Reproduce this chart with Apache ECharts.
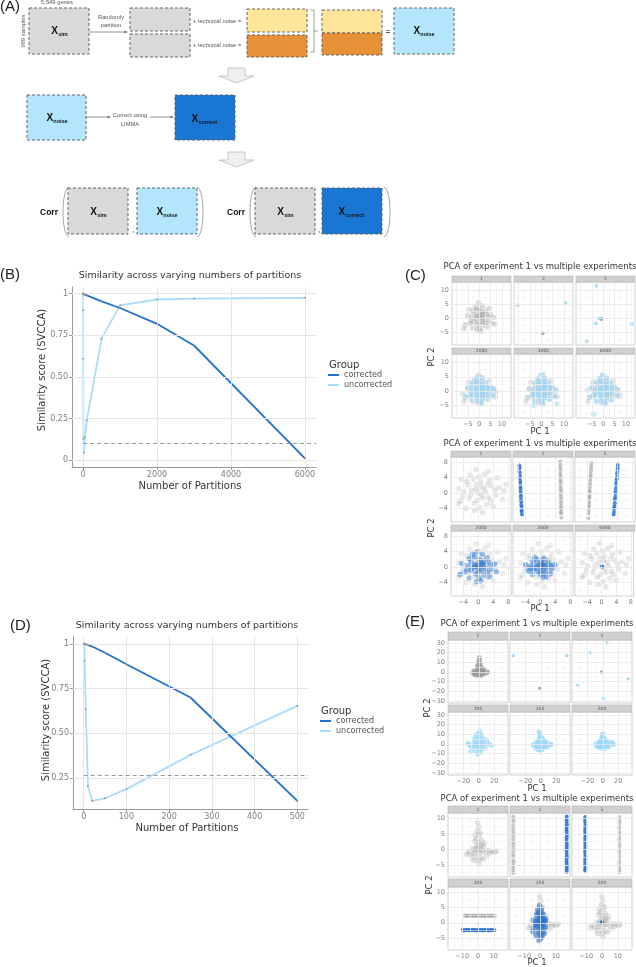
<!DOCTYPE html>
<html><head><meta charset="utf-8">
<script src="https://cdn.jsdelivr.net/npm/echarts@6/dist/echarts.min.js"></script>
<style>html,body{margin:0;padding:0;background:#fff}#c{width:636px;height:967px}</style>
</head><body><div id="c"></div><script>
// ---------------- DATA ----------------
const bPartitions = [1, 2, 5, 10, 20, 50, 100, 500, 1000, 2000, 3000, 6000];
const bCorrected = [1.0, 0.999, 0.998, 0.997, 0.996, 0.993, 0.99, 0.954, 0.914, 0.819, 0.689, 0.012];
const bUncorrected = [1.0, 0.90, 0.61, 0.13, 0.045, 0.14, 0.24, 0.73, 0.93, 0.965, 0.97, 0.975];
const bThreshold = 0.1;
const bXTicks = [0, 2000, 4000, 6000];
const bYTicks = [0, 0.25, 0.5, 0.75, 1];

const dPartitions = [1, 2, 5, 10, 20, 50, 100, 250, 500];
const dCorrected = [1.0, 0.999, 0.997, 0.994, 0.985, 0.95, 0.886, 0.70, 0.121];
const dUncorrected = [1.0, 0.905, 0.634, 0.205, 0.121, 0.136, 0.187, 0.379, 0.653];
const dThreshold = 0.265;
const dXTicks = [0, 100, 200, 300, 400, 500];
const dYTicks = [0.25, 0.5, 0.75, 1];

const groupNames = ['corrected', 'uncorrected'];

// PCA panel (C) top
const cTopLabels = ['1', '2', '5', '2000', '3000', '6000'];
const cTopXTicks = [-10, -5, 0, 5, 10];
const cTopYTicks = [-5, 0, 5, 10];
const cTopExp1 = [[0.2,0.4],[1.3,1.1],[-1.4,0.8],[2.2,-0.7],[-2.3,-1.1],[0.5,2.5],[-0.9,-2.3],[3.0,1.6],[-3.3,0.5],[1.9,-2.4],[-1.2,3.1],[0.3,-3.5],[4.1,-0.8],[-4.0,-1.9],[2.7,2.8],[-2.6,2.7],[4.9,1.3],[-5.1,1.0],[1.5,4.4],[-0.3,5.6],[0.8,-4.6],[-2.8,-3.5],[3.5,-3.0],[5.7,-1.8],[-6.1,-2.3],[6.4,0.4],[-1.8,4.2],[2.0,2.0],[-0.5,1.0],[1.0,-1.2],[-1.6,-0.3],[1.7,0.1],[-3.5,-0.8],[3.7,0.7],[-0.1,-1.5],[0.5,1.5],[2.8,-1.6],[-2.3,1.8],[-6.8,-3.7],[7.0,-2.1],[-4.5,3.1],[4.4,3.5],[0.0,3.3],[-0.8,-4.0]];
const cTop2Gray = [[0.6,-5.3]];
const cTop2Blue = [[-10.4,4.7],[10.6,5.6]];
const cTop5Gray = [[-0.8,-0.2]];
const cTop5Blue = [[-2.9,11.7],[-7.3,-8.2],[-3.2,-1.8],[-1.9,0.0],[12.5,-2.0]];
const cTop2000Blue = [[0.5,0.2],[1.1,1.4],[-1.3,0.5],[2.4,-0.4],[-2.0,-1.4],[0.7,2.2],[-0.6,-2.5],[3.2,1.2],[-3.1,0.9],[1.6,-2.7],[-1.5,2.9],[0.1,-3.3],[4.3,-1.1],[-4.3,-1.5],[2.5,3.0],[-2.9,2.4],[5.1,0.9],[-4.8,1.4],[1.2,4.7],[-0.5,4.9],[1.0,-4.3],[-3.0,-3.2],[3.8,-2.6],[6.0,-1.5],[-5.9,-2.0],[6.6,0.8],[-2.1,4.0],[2.2,1.7],[-0.3,0.8],[0.8,-1.0],[-1.9,-0.6],[1.8,0.4],[-3.8,-0.5],[3.4,0.5],[0.2,-1.7],[-7.2,-1.0],[7.4,-0.3]];
const cTop3000Blue = [[0.3,0.5],[1.4,1.0],[-1.2,0.9],[2.1,-0.8],[-2.2,-1.2],[0.9,2.6],[-0.7,-2.1],[3.3,1.4],[-3.4,0.2],[1.7,-2.2],[-1.3,3.4],[0.5,-3.1],[4.4,-0.7],[-4.2,-1.7],[2.8,3.1],[-2.4,2.5],[5.0,1.1],[-5.3,0.7],[1.3,4.3],[0.8,5.9],[0.6,-4.4],[-2.7,-3.3],[3.6,-2.8],[5.9,-2.0],[-6.2,-2.6],[6.8,0.2],[-1.6,4.1],[2.3,1.9],[-0.4,1.1],[1.1,-1.4],[-1.8,-0.2],[1.6,0.3],[-3.7,-0.9],[3.9,0.8],[-0.2,-1.6],[-3.1,-5.0],[6.9,-4.6]];
const cTop6000Blue = [[0.1,0.3],[1.2,1.3],[-1.6,0.6],[2.5,-0.5],[-2.1,-1.3],[0.4,2.3],[-1.0,-2.4],[3.1,1.7],[-3.0,0.6],[2.0,-2.6],[-1.0,3.0],[0.2,-3.6],[4.0,-1.0],[-4.4,-1.6],[2.6,2.7],[-2.8,2.8],[4.7,1.5],[-5.0,1.2],[1.6,4.5],[-0.2,5.3],[0.9,-4.5],[-2.9,-3.7],[3.3,-3.2],[5.6,-1.6],[-6.0,-2.1],[6.2,0.5],[-1.9,4.4],[2.1,2.1],[-0.6,0.9],[1.0,-1.1],[-1.5,-0.5],[1.8,0.2],[-3.6,-0.7],[3.6,0.6],[-0.3,-1.8],[-4.2,-8.1],[-7.0,0.3],[7.3,-1.3]];

// PCA panel (C) bottom
const cBotLabels = ['1', '2', '5', '2000', '3000', '6000'];
const cBotXTicks = [-4, 0, 4, 8];
const cBotYTicks = [-4, 0, 4, 8];
const cBotExp1 = [[0,0],[1.5,1.2],[-1.8,0.7],[2.6,-1.1],[-2.4,-1.5],[0.7,2.8],[-1.1,-2.6],[3.5,1.8],[-3.8,0.3],[2.2,-3.0],[-1.4,3.6],[0.4,-3.8],[4.6,-0.6],[-4.9,-2.2],[3.0,3.3],[-3.1,3.0],[5.6,1.4],[-5.3,1.1],[1.7,4.9],[-0.6,6.1],[1.1,-5.2],[-3.3,-4.1],[3.9,-3.5],[6.4,-1.7],[-5.4,-2.8],[6.8,0.6],[-2.2,4.7],[2.4,2.2],[-0.7,1.0],[1.1,-1.5],[-2.0,-0.5],[1.9,0.3],[-4.2,-1.0],[4.4,0.8],[-0.3,-1.9],[0.5,1.7],[3.3,-2.0],[-2.8,2.1],[5.0,3.9],[-4.6,3.6],[0.2,4.1],[-1.0,-4.6],[0.8,-0.5],[-0.5,2.3],[7.4,2.2],[2.6,5.6]];
const cBot2Blue = [[-5.6,7.2],[-5.5,6.6],[-5.6,5.8],[-5.5,5.3],[-5.4,4.4],[-5.5,3.9],[-5.4,3.1],[-5.4,2.6],[-5.3,1.7],[-5.3,1.1],[-5.3,0.4],[-5.2,-0.3],[-5.2,-0.9],[-5.2,-1.8],[-5.1,-2.3],[-5.1,-3.1],[-5.0,-3.7],[-5.0,-4.5],[-5.0,-5.0],[-4.9,-5.7]];
const cBot2Gray = [[5.3,8.2],[5.3,7.4],[5.3,6.5],[5.4,5.9],[5.3,5.0],[5.4,4.3],[5.4,3.4],[5.4,2.8],[5.4,1.9],[5.4,1.1],[5.5,0.5],[5.4,-0.4],[5.5,-1.1],[5.5,-1.9],[5.5,-2.6],[5.5,-3.5],[5.5,-4.1],[5.5,-4.9],[5.5,-5.4],[5.6,-6.4]];
const cBot5Gray = [[-2.9,7.8],[-3.0,7.0],[-3.0,6.2],[-3.1,5.6],[-3.1,4.7],[-3.2,4.1],[-3.2,3.2],[-3.3,2.3],[-3.3,1.7],[-3.4,0.8],[-3.4,0.2],[-3.4,-0.8],[-3.5,-1.4],[-3.5,-2.3],[-3.6,-3.1],[-3.6,-3.7],[-3.7,-4.6],[-3.7,-5.4],[-3.8,-6.6]];
const cBot5Blue = [[4.1,7.3],[4.1,6.5],[4.0,5.9],[3.9,5.1],[3.9,4.2],[3.8,3.6],[3.7,2.7],[3.7,2.1],[3.6,1.2],[3.5,0.4],[3.5,-0.3],[3.4,-1.2],[3.3,-1.8],[3.3,-2.7],[3.2,-3.5],[3.1,-4.1],[3.1,-5.0],[3.0,-5.7]];
const cBot2000Blue = [[0.1,0.3],[1.2,0.9],[-1.1,0.6],[2.0,-0.5],[-1.9,-0.9],[0.4,1.9],[-0.7,-1.8],[2.7,1.2],[-2.8,0.4],[1.5,-2.2],[-1.0,2.6],[0.2,-2.8],[3.5,-0.6],[-3.6,-1.3],[2.2,2.4],[-2.3,2.2],[4.3,0.8],[-4.4,0.9],[1.1,3.4],[-0.4,3.9],[0.7,-3.6],[-2.4,-2.9],[2.9,-2.5],[4.8,-1.3],[-4.9,-1.9],[-1.6,3.3],[1.7,1.5],[-0.4,0.7],[0.8,-0.9],[-1.4,-0.3],[1.4,0.1],[-3.0,-0.6],[3.1,0.4],[-0.1,-1.2],[0.6,1.1],[2.4,-1.4],[-2.0,1.5],[0.0,-0.4],[-0.9,0.1],[0.9,0.6],[-0.5,-3.9]];
const cBot3000Blue = [[0.2,0.1],[1.0,0.6],[-0.9,0.4],[1.8,-0.4],[-1.7,-0.7],[0.3,1.3],[-0.6,-1.3],[2.4,0.8],[-2.5,0.3],[1.3,-1.6],[-0.9,1.8],[0.1,-2.0],[3.1,-0.5],[-3.2,-1.0],[2.0,1.6],[-2.0,1.5],[3.8,0.5],[-3.9,0.6],[0.9,2.2],[0.6,-2.6],[-2.1,-2.0],[2.6,-1.8],[-0.3,0.5],[0.7,-0.7],[-1.3,-0.2],[1.3,0.2],[-2.7,-0.4],[2.8,0.3],[0.0,-0.9],[0.5,0.8],[-1.5,2.4],[1.6,-2.6]];
const cBot6000Blue = [[0.1,0.1]];

// PCA panel (E) top
const eTopLabels = ['1', '2', '5', '100', '250', '500'];
const eTopXTicks = [-20, 0, 20];
const eTopYTicks = [-30, -20, -10, 0, 10, 20, 30];
const eTopExp1 = [[0,0],[1.6,1.3],[-1.7,0.9],[3.2,0.2],[-3.2,-0.6],[0.4,3.2],[-0.9,-2.1],[4.2,1.6],[-4.3,0.4],[2.2,-2.6],[-1.1,4.6],[0.9,6.6],[0.1,8.4],[-0.4,10.5],[1.1,12.4],[0.6,15.0],[6.2,-0.4],[-6.1,-1.1],[8.2,0.4],[-8.3,-1.6],[10.2,-0.6],[11.5,0.1],[-2.6,2.6],[2.6,3.6],[5.1,-2.1],[-5.2,-2.6],[3.6,-3.6],[-3.4,-3.9],[1.4,-4.2],[7.1,1.9],[-7.2,0.9],[9.1,-1.6],[-1.6,6.2],[2.1,8.7],[0.2,-3.1],[4.6,4.1]];
const eTop2Gray = [[-1.3,-16.9]];
const eTop2Blue = [[-35.7,16.8],[33.9,16.8]];
const eTop5Gray = [[-1.8,0.0]];
const eTop5Blue = [[5.2,29.9],[-16.5,19.8],[-32.6,-13.8],[33.0,-7.0],[0.8,-27.3]];
const eTop100Gray = [[-4.0,-0.5],[-1.5,0.2],[1.0,-0.3],[3.5,0.4]];
const eTop100Blue = [[0,0],[2.5,1.8],[-2.6,1.2],[5.1,-1.2],[-4.8,-1.9],[1.2,4.6],[-1.4,-4.1],[7.4,2.3],[-7.2,1.1],[3.8,-5.2],[-3.1,6.4],[0.6,8.3],[-0.8,10.6],[1.4,13.5],[9.6,-0.6],[-9.8,-2.4],[12.5,0.8],[-12.1,-1.2],[-3.6,-7.8],[2.4,-8.6],[-1.2,-10.8],[5.8,5.6],[-5.9,5.1],[8.6,-4.3],[-8.4,-4.9],[3.5,9.8],[-3.8,9.1],[15.6,-1.6],[-14.2,0.7],[0.4,-6.1],[1.8,-1.7],[-1.7,2.9],[-10.5,-7.5],[10.2,3.8]];
const eTop250Blue = [[0,0],[2.2,1.5],[-2.3,1.0],[4.4,-0.8],[-4.3,-1.6],[0.3,3.8],[-1.1,-3.1],[5.9,2.0],[-6.1,0.6],[3.1,-3.8],[-1.8,5.5],[-0.4,7.6],[-1.5,9.8],[-2.2,12.3],[8.4,-0.4],[-8.6,-2.2],[11.2,0.2],[13.8,-0.6],[-9.6,-0.5],[1.5,-6.0],[-3.4,-5.6],[6.2,-3.9],[-6.5,-4.4],[1.6,6.3],[3.2,4.1],[-4.1,3.4],[9.6,-2.1],[0.8,-1.4],[-1.0,1.9],[6.8,1.1],[-0.8,-6.5],[4.9,3.2]];
const eTop500Blue = [[0,0],[2.1,1.2],[-2.0,1.1],[4.2,-0.6],[-4.1,-1.4],[0.5,3.5],[-0.9,-2.6],[5.6,1.7],[-5.8,0.5],[2.9,-3.3],[-1.5,5.1],[-0.2,7.0],[-0.9,9.2],[0.3,10.2],[8.1,-0.2],[-8.1,-2.0],[10.8,0.4],[13.9,-0.4],[-8.8,0.3],[1.2,-4.9],[-3.1,-4.5],[6.0,-3.1],[-6.2,-3.5],[1.9,5.6],[3.3,3.6],[-3.9,3.0],[9.2,-1.8],[0.7,-1.2],[-1.1,1.7],[6.6,2.0],[11.8,1.5],[4.6,2.9]];

// PCA panel (E) bottom
const eBotLabels = ['1', '2', '5', '100', '250', '500'];
const eBotXTicks = [-10, 0, 10];
const eBotYTicks = [-5, 0, 5, 10];
const eBotExp1 = [[0,0],[1.2,0.8],[-1.3,0.5],[2.5,-0.6],[-2.4,-1.2],[0.4,2.2],[-0.8,-2.4],[3.6,0.9],[-3.5,0.2],[1.8,-2.6],[-1.2,3.3],[0.2,-3.5],[4.8,-0.9],[-4.6,-1.6],[2.0,3.0],[-2.2,2.6],[6.2,-0.3],[-5.8,-0.8],[0.8,4.6],[-0.4,5.8],[0.5,7.2],[-0.2,8.6],[1.5,5.2],[0.6,-4.7],[-2.6,-3.6],[3.1,-3.2],[7.6,-1.2],[-7.2,-1.6],[9.0,-0.6],[10.5,-0.9],[11.6,-0.5],[-1.8,4.5],[2.4,1.8],[-0.6,1.2],[1.0,-1.1],[-1.8,-0.4],[1.9,0.3],[-3.8,-2.6],[4.2,2.1],[5.4,-2.2]];
const eBot2Gray = [[-16.9,10.6],[-16.9,9.6],[-16.8,8.9],[-16.9,7.7],[-17.0,7.0],[-16.9,6.0],[-16.8,5.1],[-16.9,4.1],[-17.0,3.2],[-16.9,2.2],[-16.9,1.3],[-16.8,0.3],[-16.9,-0.5],[-17.0,-1.6],[-16.9,-2.3],[-16.9,-3.5],[-16.8,-4.2],[-16.9,-5.2],[-17.0,-6.1],[-16.9,-7.0],[-16.9,-7.7]];
const eBot2Blue = [[16.9,10.6],[16.8,9.8],[16.9,9.0],[17.0,8.1],[16.9,7.3],[16.8,6.4],[16.9,5.6],[17.0,4.7],[16.9,3.9],[16.8,3.0],[16.9,2.1],[17.0,1.3],[16.9,0.4],[16.8,-0.4],[16.9,-1.3],[17.0,-2.2],[16.9,-3.0],[16.8,-3.9],[16.9,-4.7],[17.0,-5.6],[16.9,-6.4],[16.9,-7.2]];
const eBot5Blue = [[-10.6,10.4],[-10.7,9.5],[-10.6,8.7],[-10.5,7.8],[-10.6,7.0],[-10.7,6.1],[-10.6,5.3],[-10.5,4.4],[-10.6,3.6],[-10.7,2.7],[-10.6,1.9],[-10.5,1.0],[-10.6,0.2],[-10.7,-0.7],[-10.6,-1.5],[-10.5,-2.4],[-10.6,-3.2],[-10.7,-4.1],[-10.6,-4.9],[-10.5,-5.8],[-10.6,-6.4],[-10.6,-7.0]];
const eBot5Gray = [[11.0,10.4],[11.0,9.3],[11.1,8.6],[11.0,7.4],[10.9,6.7],[11.0,5.6],[11.1,4.8],[11.0,3.7],[10.9,2.9],[11.0,1.8],[11.1,1.0],[11.0,-0.1],[10.9,-0.9],[11.0,-2.0],[11.1,-2.8],[11.0,-3.9],[10.9,-4.7],[11.0,-5.8],[11.1,-6.6],[11.0,-7.4]];
const eBot100Gray = [[-8.3,2.4],[-7.4,2.3],[-6.6,2.2],[-5.5,2.4],[-4.7,2.3],[-3.6,2.2],[-2.8,2.4],[-1.7,2.3],[-0.9,2.2],[0.2,2.35],[1.0,2.3],[2.1,2.2],[2.9,2.4],[4.0,2.3],[4.8,2.25],[5.9,2.4],[6.7,2.3],[7.8,2.2],[8.6,2.35],[9.7,2.3],[10.6,2.25]];
const eBot100Blue = [[-9.7,-2.4],[-8.7,-2.5],[-7.5,-2.3],[-6.6,-2.45],[-5.6,-2.4],[-4.8,-2.5],[-3.7,-2.3],[-2.9,-2.45],[-1.8,-2.4],[-0.9,-2.5],[0.2,-2.35],[1.1,-2.45],[2.0,-2.4],[3.1,-2.5],[3.9,-2.3],[5.0,-2.45],[5.9,-2.4],[6.8,-2.5],[7.9,-2.35],[8.8,-2.4],[10.4,-2.45]];
const eBot250Blue = [[0,0],[1.1,0.8],[-1.2,0.6],[2.2,-0.5],[-2.1,-1.0],[0.4,2.1],[-0.6,-2.2],[3.0,1.3],[-3.1,0.4],[1.6,-2.9],[-1.0,3.2],[0.2,-3.8],[3.6,-1.4],[-3.8,-1.9],[1.9,2.9],[-2.2,2.6],[-4.4,0.9],[0.9,4.5],[-0.3,5.6],[0.6,-5.1],[-2.4,-4.2],[2.6,-3.6],[-4.6,-2.9],[1.6,1.5],[-0.5,0.9],[0.9,-1.1],[-1.6,-0.3],[1.5,0.1],[-2.8,-0.6],[2.9,0.3],[-0.1,-1.5],[0.5,1.3],[2.3,-1.9],[-1.8,1.6],[-0.9,-3.1],[0.7,3.4],[-1.4,4.1],[1.2,-4.4],[4.0,0.8],[-0.6,-5.8]];
const eBot500Blue = [[0.0,0.2]];

// ---------------- STYLE / LAYOUT ----------------
const F = 'DejaVu Sans, sans-serif';
const FD = 'Liberation Sans, Arial, sans-serif';
const C_DARK = '#2171d1', C_LIGHT = '#a9ddf8';
const grids = [], xAxes = [], yAxes = [], series = [], G = [];
const minus = v => String(v).replace('-', '\u2212');

function addGrid(g, xa, ya) {
  const i = grids.length;
  grids.push(g); xa.gridIndex = i; ya.gridIndex = i; xAxes.push(xa); yAxes.push(ya);
  return i;
}
function gridLines(gi, xs, ys, color, width, z) {
  series.push({type: 'line', xAxisIndex: gi, yAxisIndex: gi, data: [], silent: true, z: z,
    markLine: {silent: true, symbol: ['none', 'none'], label: {show: false}, animation: false,
      lineStyle: {color: color, width: width, type: 'solid'},
      data: xs.map(v => ({xAxis: v})).concat(ys.map(v => ({yAxis: v})))}});
}
function minors(t, lo, hi) {
  const s = t[1] - t[0], out = [];
  for (let k = -3; k < t.length + 3; k++) {
    const v = t[0] + (k + 0.5) * s;
    if (v > lo && v < hi) out.push(v);
  }
  return out;
}
function txt(x, y, s, o) {
  G.push(Object.assign({type: 'text', x: x, y: y, z: 20,
    style: Object.assign({text: s, fontSize: 10, fill: '#333', fontFamily: F, align: 'center', verticalAlign: 'middle'}, o || {})}));
}

// ---------------- LINE PANELS (B, D) ----------------
function linePanel(o) {
  const axisCommon = {type: 'value', splitLine: {show: false},
    axisLine: {show: true, onZero: false, lineStyle: {color: '#9a9a9a', width: 1}}};
  const gi = addGrid({left: o.l, top: o.t, width: o.w, height: o.h, show: false},
    Object.assign({}, axisCommon, {min: o.xr[0], max: o.xr[1],
      axisTick: {show: true, customValues: o.xt, length: 3, lineStyle: {color: '#9a9a9a'}},
      axisLabel: {customValues: o.xt, fontSize: 8, color: '#7f7f7f', margin: 4, fontFamily: F, formatter: v => String(v)}}),
    Object.assign({}, axisCommon, {min: o.yr[0], max: o.yr[1],
      axisTick: {show: true, customValues: o.yt, length: 3, lineStyle: {color: '#9a9a9a'}},
      axisLabel: {customValues: o.yt, fontSize: 8, color: '#7f7f7f', margin: 4, fontFamily: F,
        formatter: v => (v === 0 ? '0' : v === 1 ? '1' : v.toFixed(2))}}));
  gridLines(gi, o.xt, o.yt, '#e6e6e6', 1, 1);
  series.push({type: 'line', xAxisIndex: gi, yAxisIndex: gi, data: [], silent: true, z: 2,
    markLine: {silent: true, symbol: ['none', 'none'], label: {show: false}, animation: false,
      lineStyle: {color: '#9a9a9a', type: [4, 3], width: 1},
      data: [[{coord: [0, o.thr]}, {coord: [o.xr[1], o.thr]}]]}});
  series.push({name: 'uncorrected', type: 'line', xAxisIndex: gi, yAxisIndex: gi, z: 3,
    data: o.x.map((x, i) => [x, o.unc[i]]), showSymbol: false, silent: true,
    lineStyle: {width: 1.8, color: C_LIGHT}, itemStyle: {color: C_LIGHT}});
  series.push({name: 'corrected', type: 'line', xAxisIndex: gi, yAxisIndex: gi, z: 4,
    data: o.x.map((x, i) => [x, o.cor[i]]), showSymbol: false, silent: true,
    lineStyle: {width: 1.8, color: C_DARK}, itemStyle: {color: C_DARK}});
  series.push({type: 'scatter', xAxisIndex: gi, yAxisIndex: gi, z: 5, silent: true, symbolSize: 2,
    itemStyle: {color: '#8c8c8c', opacity: 0.8, borderWidth: 0},
    data: o.x.map((x, i) => [x, o.unc[i]]).concat(o.x.map((x, i) => [x, o.cor[i]]))});
}
linePanel({l: 72, t: 287, w: 244, h: 180, xr: [-300, 6300], yr: [-0.04, 1.04], xt: bXTicks, yt: bYTicks,
  x: bPartitions, cor: bCorrected, unc: bUncorrected, thr: bThreshold});
linePanel({l: 73, t: 636, w: 235, h: 173, xr: [-25, 525], yr: [0.076, 1.044], xt: dXTicks, yt: dYTicks,
  x: dPartitions, cor: dCorrected, unc: dUncorrected, thr: dThreshold});

txt(190, 276, 'Similarity across varying numbers of partitions', {fontSize: 9.5});
txt(190, 486, 'Number of Partitions', {fontSize: 10});
txt(42, 370, 'Similarity score (SVCCA)', {fontSize: 10});
G[G.length - 1].rotation = Math.PI / 2;
txt(329, 365, 'Group', {fontSize: 10, align: 'left'});
txt(187, 626, 'Similarity across varying numbers of partitions', {fontSize: 9.5});
txt(187, 828, 'Number of Partitions', {fontSize: 10});
txt(46, 720, 'Similarity score (SVCCA)', {fontSize: 10});
G[G.length - 1].rotation = Math.PI / 2;
txt(321, 711, 'Group', {fontSize: 10, align: 'left'});

// ---------------- FACET PANELS (C, E) ----------------
function facetBlock(b) {
  txt(b.titleX, b.titleY, 'PCA of experiment 1 vs multiple experiments', {fontSize: 8.5});
  txt(b.pc1[0], b.pc1[1], 'PC 1', {fontSize: 8.5});
  txt(b.pc2[0], b.pc2[1], 'PC 2', {fontSize: 8.5});
  G[G.length - 1].rotation = Math.PI / 2;
  b.facets.forEach((f, k) => {
    const r = Math.floor(k / 3), c = k % 3;
    const row = b.rows[r], x = b.cols[c];
    G.push({type: 'rect', z: 15, shape: {x: x, y: row.s, width: b.w, height: row.p - row.s},
      style: {fill: '#d0d0d0', stroke: '#b4b4b4', lineWidth: 0.6}});
    txt(x + b.w / 2, (row.s + row.p) / 2 + 0.3, f.label, {fontSize: 4.5, fill: '#555'});
    const gi = addGrid({left: x, top: row.p, width: b.w, height: row.h, show: true,
        borderColor: '#c4c4c4', borderWidth: 0.8, backgroundColor: '#fff'},
      {type: 'value', min: b.xr[0], max: b.xr[1], splitLine: {show: false}, axisLine: {show: false},
        axisTick: {show: r === 1, customValues: b.xt, length: 2, lineStyle: {color: '#999'}},
        axisLabel: {show: r === 1, customValues: b.xt, fontSize: 6.5, color: '#808080', margin: 3, fontFamily: F, formatter: minus}},
      {type: 'value', min: b.yr[0], max: b.yr[1], splitLine: {show: false}, axisLine: {show: false},
        axisTick: {show: c === 0, customValues: b.yt, length: 2, lineStyle: {color: '#999'}},
        axisLabel: {show: c === 0, customValues: b.yt, fontSize: 6.5, color: '#808080', margin: 3, fontFamily: F, formatter: minus}});
    gridLines(gi, minors(b.xt, b.xr[0], b.xr[1]), minors(b.yt, b.yr[0], b.yr[1]), '#f3f3f3', 0.6, 1);
    gridLines(gi, b.xt, b.yt, '#e8e8e8', 0.8, 2);
    if (f.gray) series.push({type: 'scatter', xAxisIndex: gi, yAxisIndex: gi, z: 3, silent: true,
      data: f.gray, symbolSize: f.gSize || b.size, itemStyle: {color: '#9a9a9a', opacity: f.gOp || 0.3, borderWidth: 0}});
    if (f.blue) series.push({type: 'scatter', xAxisIndex: gi, yAxisIndex: gi, z: 4, silent: true,
      data: f.blue, symbolSize: f.bSize || b.size, itemStyle: {color: b.blueColor, opacity: f.bOp || 0.55, borderWidth: 0}});
  });
}

facetBlock({cols: [452, 514, 576], w: 59, rows: [{s: 276, p: 282, h: 63}, {s: 348, p: 354, h: 64}],
  xr: [-12, 14], yr: [-9.5, 13], xt: cTopXTicks, yt: cTopYTicks, size: 5.5, blueColor: '#9fd8f6',
  titleX: 540, titleY: 267, pc1: [540, 432], pc2: [432, 357],
  facets: [
    {label: cTopLabels[0], gray: cTopExp1, gOp: 0.35},
    {label: cTopLabels[1], gray: cTop2Gray, blue: cTop2Blue, gOp: 0.8, bOp: 0.9, gSize: 4, bSize: 4},
    {label: cTopLabels[2], gray: cTop5Gray, blue: cTop5Blue, gOp: 0.8, bOp: 0.9, gSize: 4, bSize: 4},
    {label: cTopLabels[3], gray: cTopExp1, blue: cTop2000Blue, gOp: 0.3, bOp: 0.6},
    {label: cTopLabels[4], gray: cTopExp1, blue: cTop3000Blue, gOp: 0.3, bOp: 0.6},
    {label: cTopLabels[5], gray: cTopExp1, blue: cTop6000Blue, gOp: 0.3, bOp: 0.6}]});

facetBlock({cols: [451, 513, 575], w: 60, rows: [{s: 451, p: 457, h: 65}, {s: 525, p: 531, h: 65}],
  xr: [-7.3, 8.7], yr: [-7.6, 9.4], xt: cBotXTicks, yt: cBotYTicks, size: 5.5, blueColor: C_DARK,
  titleX: 540, titleY: 444, pc1: [540, 609], pc2: [432, 528],
  facets: [
    {label: cBotLabels[0], gray: cBotExp1, gOp: 0.25},
    {label: cBotLabels[1], gray: cBot2Gray, blue: cBot2Blue, gOp: 0.6, bOp: 0.8, gSize: 4, bSize: 4},
    {label: cBotLabels[2], gray: cBot5Gray, blue: cBot5Blue, gOp: 0.6, bOp: 0.8, gSize: 4, bSize: 4},
    {label: cBotLabels[3], gray: cBotExp1, blue: cBot2000Blue, gOp: 0.22, bOp: 0.45},
    {label: cBotLabels[4], gray: cBotExp1, blue: cBot3000Blue, gOp: 0.22, bOp: 0.5},
    {label: cBotLabels[5], gray: cBotExp1, blue: cBot6000Blue, gOp: 0.25, bOp: 1, bSize: 4}]});

facetBlock({cols: [448, 510, 572], w: 60, rows: [{s: 632, p: 640, h: 63}, {s: 705, p: 712, h: 63}],
  xr: [-40, 38], yr: [-32, 33], xt: eTopXTicks, yt: eTopYTicks, size: 5, blueColor: '#9fd8f6',
  titleX: 537, titleY: 624, pc1: [537, 789], pc2: [428, 708],
  facets: [
    {label: eTopLabels[0], gray: eTopExp1, gOp: 0.6},
    {label: eTopLabels[1], gray: eTop2Gray, blue: eTop2Blue, gOp: 0.8, bOp: 0.9, gSize: 3.5, bSize: 3.5},
    {label: eTopLabels[2], gray: eTop5Gray, blue: eTop5Blue, gOp: 0.8, bOp: 0.9, gSize: 3.5, bSize: 3.5},
    {label: eTopLabels[3], gray: eTop100Gray, blue: eTop100Blue, gOp: 0.5, bOp: 0.7},
    {label: eTopLabels[4], blue: eTop250Blue, bOp: 0.8},
    {label: eTopLabels[5], blue: eTop500Blue, bOp: 0.8}]});

facetBlock({cols: [448, 510, 572], w: 60, rows: [{s: 806, p: 813, h: 64}, {s: 879, p: 887, h: 63}],
  xr: [-19, 19], yr: [-8.9, 11.7], xt: eBotXTicks, yt: eBotYTicks, size: 5.5, blueColor: C_DARK,
  titleX: 537, titleY: 799, pc1: [537, 963], pc2: [430, 885],
  facets: [
    {label: eBotLabels[0], gray: eBotExp1, gOp: 0.3},
    {label: eBotLabels[1], gray: eBot2Gray, blue: eBot2Blue, gOp: 0.5, bOp: 0.85, gSize: 4, bSize: 4},
    {label: eBotLabels[2], gray: eBot5Gray, blue: eBot5Blue, gOp: 0.5, bOp: 0.85, gSize: 4, bSize: 4},
    {label: eBotLabels[3], gray: eBot100Gray, blue: eBot100Blue, gOp: 0.6, bOp: 0.9, gSize: 4, bSize: 4},
    {label: eBotLabels[4], gray: eBotExp1, blue: eBot250Blue, gOp: 0.3, bOp: 0.55},
    {label: eBotLabels[5], gray: eBotExp1, blue: eBot500Blue, gOp: 0.3, bOp: 1, bSize: 4}]});

// ---------------- PANEL LETTERS ----------------
[['(A)', 0, -1], ['(B)', 0, 267], ['(C)', 405, 268], ['(D)', 10, 618], ['(E)', 405, 614]].forEach(p =>
  txt(p[1], p[2], p[0], {fontSize: 15, align: 'left', verticalAlign: 'top', fontFamily: FD, fill: '#222'}));

// ---------------- SCHEMATIC (A) ----------------
function box(x, y, w, h, fill) {
  G.push({type: 'rect', z: 10, shape: {x: x, y: y, width: w, height: h},
    style: {fill: fill, stroke: '#666', lineWidth: 1, lineDash: [3, 2]}});
}
function xlab(cx, cy, sub) {
  const wX = 6.7, wS = sub.length * 2.9, start = cx - (wX + wS) / 2;
  txt(start, cy, 'X', {fontSize: 10, fontWeight: 'bold', align: 'left', fontFamily: FD, fill: '#111'});
  txt(start + wX + 0.2, cy + 3, sub, {fontSize: 5.5, fontWeight: 'bold', align: 'left', fontFamily: FD, fill: '#111'});
}
function arrow(x1, y, x2) {
  G.push({type: 'line', z: 10, shape: {x1: x1, y1: y, x2: x2 - 3, y2: y}, style: {stroke: '#777', lineWidth: 0.8}});
  G.push({type: 'polygon', z: 10, shape: {points: [[x2, y], [x2 - 3.5, y - 1.6], [x2 - 3.5, y + 1.6]]}, style: {fill: '#777'}});
}
function blockArrow(y) {
  G.push({type: 'polygon', z: 10, shape: {points: [[228, y], [245, y], [245, y + 8], [254, y + 8], [236.5, y + 15], [219, y + 8], [228, y + 8]]},
    style: {fill: '#efefef', stroke: '#bdbdbd', lineWidth: 0.8}});
}
const GRAY = '#d9d9d9', YEL = '#ffe599', ORA = '#e69138', LBLUE = '#b3e5fc', DBLUE = '#1976d2';
const small = {fontSize: 5.8, fill: '#555', fontFamily: FD};

txt(57, 2, '5,549 genes', small);
txt(23, 31, '989 samples', small); G[G.length - 1].rotation = Math.PI / 2;
box(29, 8, 60, 46, GRAY); xlab(59, 31, 'sim');
arrow(89, 32, 128);
txt(111, 17, 'Randomly', small); txt(111, 25, 'partition', small);
box(130, 8, 60, 23, GRAY); box(130, 34, 60, 23, GRAY);
txt(193, 21, '+ technical noise =', Object.assign({align: 'left'}, small));
txt(193, 45, '+ technical noise =', Object.assign({align: 'left'}, small));
box(247, 9, 60, 23, YEL); box(247, 35, 60, 22, ORA);
G.push({type: 'polyline', z: 10, shape: {points: [[310, 10], [314, 10], [314, 52], [310, 52]]}, style: {stroke: '#888', lineWidth: 0.8, fill: null}});
G.push({type: 'line', z: 10, shape: {x1: 314, y1: 31, x2: 318, y2: 31}, style: {stroke: '#888', lineWidth: 0.8}});
box(322, 10, 60, 23, YEL); box(322, 33, 60, 22, ORA);
txt(388, 32, '=', {fontSize: 8, fontWeight: 'bold', fill: '#555', fontFamily: FD});
box(394, 8, 60, 46, LBLUE); xlab(424, 31, 'noise');

blockArrow(68);

box(27, 95, 59, 45, LBLUE); xlab(57, 118, 'noise');
arrow(86, 117, 111);
txt(130, 115, 'Correct using', small); txt(130, 124, 'LIMMA', small);
arrow(150, 117, 174);
box(175, 95, 60, 45, DBLUE); xlab(205, 119, 'correct');

blockArrow(152);

function paren(x, dir) {
  const d = dir * 8;
  G.push({type: 'bezierCurve', z: 10, shape: {x1: x, y1: 187, x2: x, y2: 237, cpx1: x - d, cpy1: 189, cpx2: x - d, cpy2: 235},
    style: {stroke: '#999', lineWidth: 0.9, fill: null}});
}
txt(40, 213, 'Corr', {fontSize: 8.5, fontWeight: 'bold', align: 'left', fontFamily: FD, fill: '#111'});
paren(69, 1); box(68, 188, 60, 46, GRAY); xlab(98, 212, 'sim');
txt(133, 230, ',', {fontSize: 8, fontFamily: FD, fill: '#333'});
box(137, 188, 60, 46, LBLUE); xlab(167, 212, 'noise'); paren(197, -1);
txt(227, 213, 'Corr', {fontSize: 8.5, fontWeight: 'bold', align: 'left', fontFamily: FD, fill: '#111'});
paren(256, 1); box(255, 188, 60, 46, GRAY); xlab(285, 212, 'sim');
txt(319, 230, ',', {fontSize: 8, fontFamily: FD, fill: '#333'});
box(322, 188, 60, 46, DBLUE); xlab(352, 212, 'correct'); paren(384, -1);

// ---------------- CHART ----------------
const chart = echarts.init(document.getElementById('c'), null, {renderer: 'canvas'});
chart.setOption({
  animation: false,
  backgroundColor: '#fff',
  grid: grids, xAxis: xAxes, yAxis: yAxes, series: series, graphic: {elements: G},
  legend: [
    {left: 328, top: 371, orient: 'vertical', data: groupNames, icon: 'rect', itemWidth: 11, itemHeight: 2,
      itemGap: 2, padding: 0, selectedMode: false, textStyle: {fontSize: 8, color: '#555', fontFamily: F}},
    {left: 320, top: 717, orient: 'vertical', data: groupNames, icon: 'rect', itemWidth: 11, itemHeight: 2,
      itemGap: 2, padding: 0, selectedMode: false, textStyle: {fontSize: 8, color: '#555', fontFamily: F}}]
});
</script></body></html>
